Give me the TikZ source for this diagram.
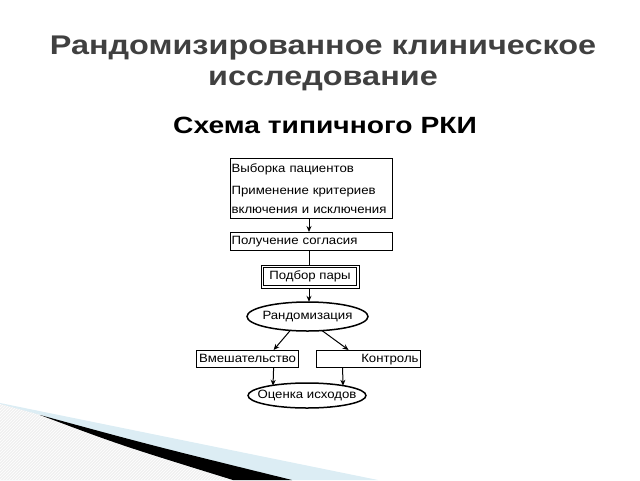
\documentclass[tikz,border=0pt]{standalone}
\usepackage{fontspec}
\setmainfont{Liberation Sans}[FakeStretch=1.2]
\newfontfamily\diagfont{Liberation Sans}[FakeStretch=1.1]
\usetikzlibrary{shapes.geometric,arrows.meta,calc,patterns}
\definecolor{titlegray}{HTML}{404040}
\definecolor{swooshblue}{HTML}{DCEDF4}
\begin{document}
\begin{tikzpicture}[x=1pt,y=-1pt,
  dfont/.style={font=\diagfont\fontsize{12}{19}\selectfont},
  box/.style={draw,line width=1.2pt,inner sep=2pt,dfont},
  onebox/.style={box,minimum height=17pt,inner sep=1pt,text height=8.8pt,text depth=2.6pt,anchor=north west},
  ovaltext/.style={inner sep=0pt,dfont},
  ovalline/.style={line width=1.5pt},
  arr/.style={line width=1pt,-{Stealth[length=6pt,width=5pt]}}]
\useasboundingbox (0,0) rectangle (640,480);
% bottom-left decoration
\fill[swooshblue] (0,403) -- (378,480) -- (0,480) -- cycle;
\fill[gray!12] (0,404) -- (44,416) .. controls (120,445) .. (233,480) -- (0,480) -- cycle;
\fill[pattern=north east lines,pattern color=white] (0,404) -- (44,416) .. controls (120,445) .. (233,480) -- (0,480) -- cycle;
\fill[black] (40,415) .. controls (150,445) .. (292,480) -- (233,480) .. controls (120,445) .. (40,415) -- cycle;
% titles
\node[font=\bfseries\fontsize{27}{31}\selectfont,text=titlegray,anchor=base] (title1) at (323,54) {Рандомизированное клиническое};
\node[font=\bfseries\fontsize{27}{31}\selectfont,text=titlegray,anchor=base] (title2) at (323,85) {исследование};
\node[font=\bfseries\fontsize{23.5}{27}\selectfont,anchor=base] (sub) at (325,133) {Схема типичного РКИ};
% flowchart
\node[box,minimum width=162pt,minimum height=60pt,text width=160pt,align=left,anchor=north west,inner xsep=1pt] (sel) at (230,158)
  {Выборка пациентов\\[3pt]Применение критериев\\включения и исключения};
\node[onebox,minimum width=162pt,minimum height=18pt,text width=160pt,align=left] (cons) at (230,232) {Получение согласия};
\node[draw,line width=0.8pt,minimum width=98pt,minimum height=23pt,dfont] (pair) at (310,276.5) {Подбор пары};
\draw[line width=0.8pt] ([shift={(3,3)}]pair.north west) rectangle ([shift={(-3,-3)}]pair.south east);
\node[ovaltext,minimum width=121pt,minimum height=29pt] (rand) at (307.5,316.5) {Рандомизация};
\draw[ovalline] (rand.center) ellipse [x radius=60.5,y radius=14.5];
\node[onebox,minimum width=102pt] (int) at (196,350) {Вмешательство};
\node[onebox,minimum width=104pt,text width=100pt,align=right] (ctl) at (316,350) {Контроль};
\node[ovaltext,minimum width=118pt,minimum height=25pt] (out) at (307,395.5) {Оценка исходов};
\draw[ovalline] (out.center) ellipse [x radius=59,y radius=12.5];
% connectors
\draw[arr] (sel.south -| 309,0) -- (cons.north -| 309,0);
\draw[line width=1pt] (cons.south -| 309,0) -- (pair.north -| 309,0);
\draw[arr] (pair.south -| 309,0) -- (rand.north -| 309,0);
\draw[arr] ($(rand.south)+(-17,-1)$) -- ($(int.north)+(26,0)$);
\draw[arr] ($(rand.south)+(14,-1)$) -- ($(ctl.north)+(-20,0)$);
\draw[arr] ($(int.south)+(26,0)$) -- ($(out.north)+(-34,3)$);
\draw[arr] ($(ctl.south)+(-26,0)$) -- ($(out.north)+(36,3)$);
\end{tikzpicture}
\end{document}
